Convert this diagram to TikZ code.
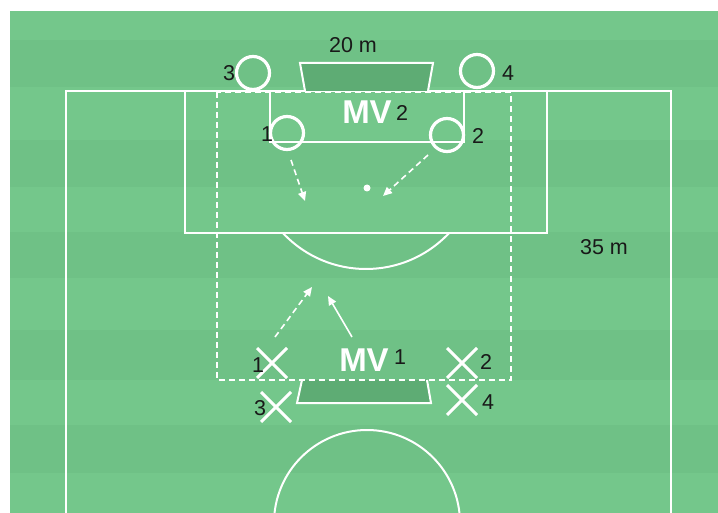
\documentclass[tikz,border=0pt]{standalone}
\usepackage{fontspec}
\setmainfont{Liberation Sans}
\usetikzlibrary{arrows.meta,shapes.misc}
\definecolor{grassA}{RGB}{116,199,139}
\definecolor{grassB}{RGB}{111,193,134}
\definecolor{goalfill}{RGB}{94,172,116}
\definecolor{txt}{RGB}{25,25,25}
\begin{document}
\begin{tikzpicture}[x=1pt,y=-1pt,
  fieldline/.style={white,line width=2pt},
  player/.style={circle,draw=white,line width=3.2pt,minimum size=33pt,inner sep=0pt},
  opp/.style={cross out,draw=white,line width=3pt,minimum size=27pt,inner sep=0pt},
  num/.style={font=\fontsize{21.5}{21.5}\selectfont,text=txt,inner sep=0pt},
  mv/.style={font=\fontsize{33}{33}\selectfont\bfseries,text=white,inner sep=0pt},
  runarrow/.style={white,line width=1.6pt,-{Triangle[length=9pt,width=8pt]}},
  dashedrun/.style={runarrow,dash pattern=on 6pt off 4pt},
  zone/.style={white,line width=2pt,dash pattern=on 6pt off 4pt}]

\useasboundingbox (0,0) rectangle (718,513);
% grass with stripes
\fill[grassA] (10,11) rectangle (718,513);
\foreach \a/\b in {40/87,140/187,232/278,330/380,425/473}
  \fill[grassB] (10,\a) rectangle (718,\b);

% field lines
\draw[fieldline] (66,513) -- (66,91) -- (671,91) -- (671,513);
\draw[fieldline] (185,91) rectangle (547,233);
\draw[fieldline] (270,91) rectangle (464,142);
\begin{scope}
  \clip (185,233) rectangle (547,300);
  \draw[fieldline] (366,155) circle[radius=114];
\end{scope}
\begin{scope}
  \clip (10,11) rectangle (718,513);
  \draw[fieldline] (367,523) circle[radius=93];
\end{scope}
\fill[white] (367,188) circle[radius=3.5];

% goals
\filldraw[fill=goalfill,draw=white,line width=2pt] (305,91) -- (300,63) -- (433,63) -- (428,91);
\fill[goalfill] (302,380) -- (297,403) -- (431,403) -- (427,380) -- cycle;
\draw[fieldline] (302,380) -- (297,403) -- (431,403) -- (427,380);

% zone
\draw[zone] (217,92) rectangle (511,380);

% texts
\node[num] (w20) at (353,45) {20 m};
\node[num] (w35) at (604,247) {35 m};

% top team (circles)
\node[player] (c3) at (253,73) {};
\node[player] (c4) at (477,71) {};
\node[player] (c1) at (287,133) {};
\node[player] (c2) at (447,135) {};
\node[num] (l3) at (229,73) {3};
\node[num] (l4) at (508,73) {4};
\node[num] (l1) at (267,134) {1};
\node[num] (l2) at (478,136) {2};
\node[mv] (mv2) at (367,112) {MV};
\node[num] (mv2n) at (402,113) {2};

% bottom team (crosses)
\node[opp] (x1) at (272,363) {};
\node[opp] (x3) at (276,407) {};
\node[opp] (x2) at (462,363) {};
\node[opp] (x4) at (462,400) {};
\node[num] (m1) at (258,365) {1};
\node[num] (m3) at (260,408) {3};
\node[num] (m2) at (486,362) {2};
\node[num] (m4) at (488,402) {4};
\node[mv] (mv1) at (364,360) {MV};
\node[num] (mv1n) at (400,357) {1};

% runs
\coordinate (a1s) at (291,160);
\coordinate (a1e) at (305,201);
\coordinate (a2s) at (428,155);
\coordinate (a2e) at (383,196);
\coordinate (b1s) at (275,337);
\coordinate (b1e) at (312,287);
\coordinate (b2s) at (352,337);
\coordinate (b2e) at (328,296);
\draw[dashedrun] (a1s) -- (a1e);
\draw[dashedrun] (a2s) -- (a2e);
\draw[dashedrun] (b1s) -- (b1e);
\draw[runarrow] (b2s) -- (b2e);
\end{tikzpicture}
\end{document}
